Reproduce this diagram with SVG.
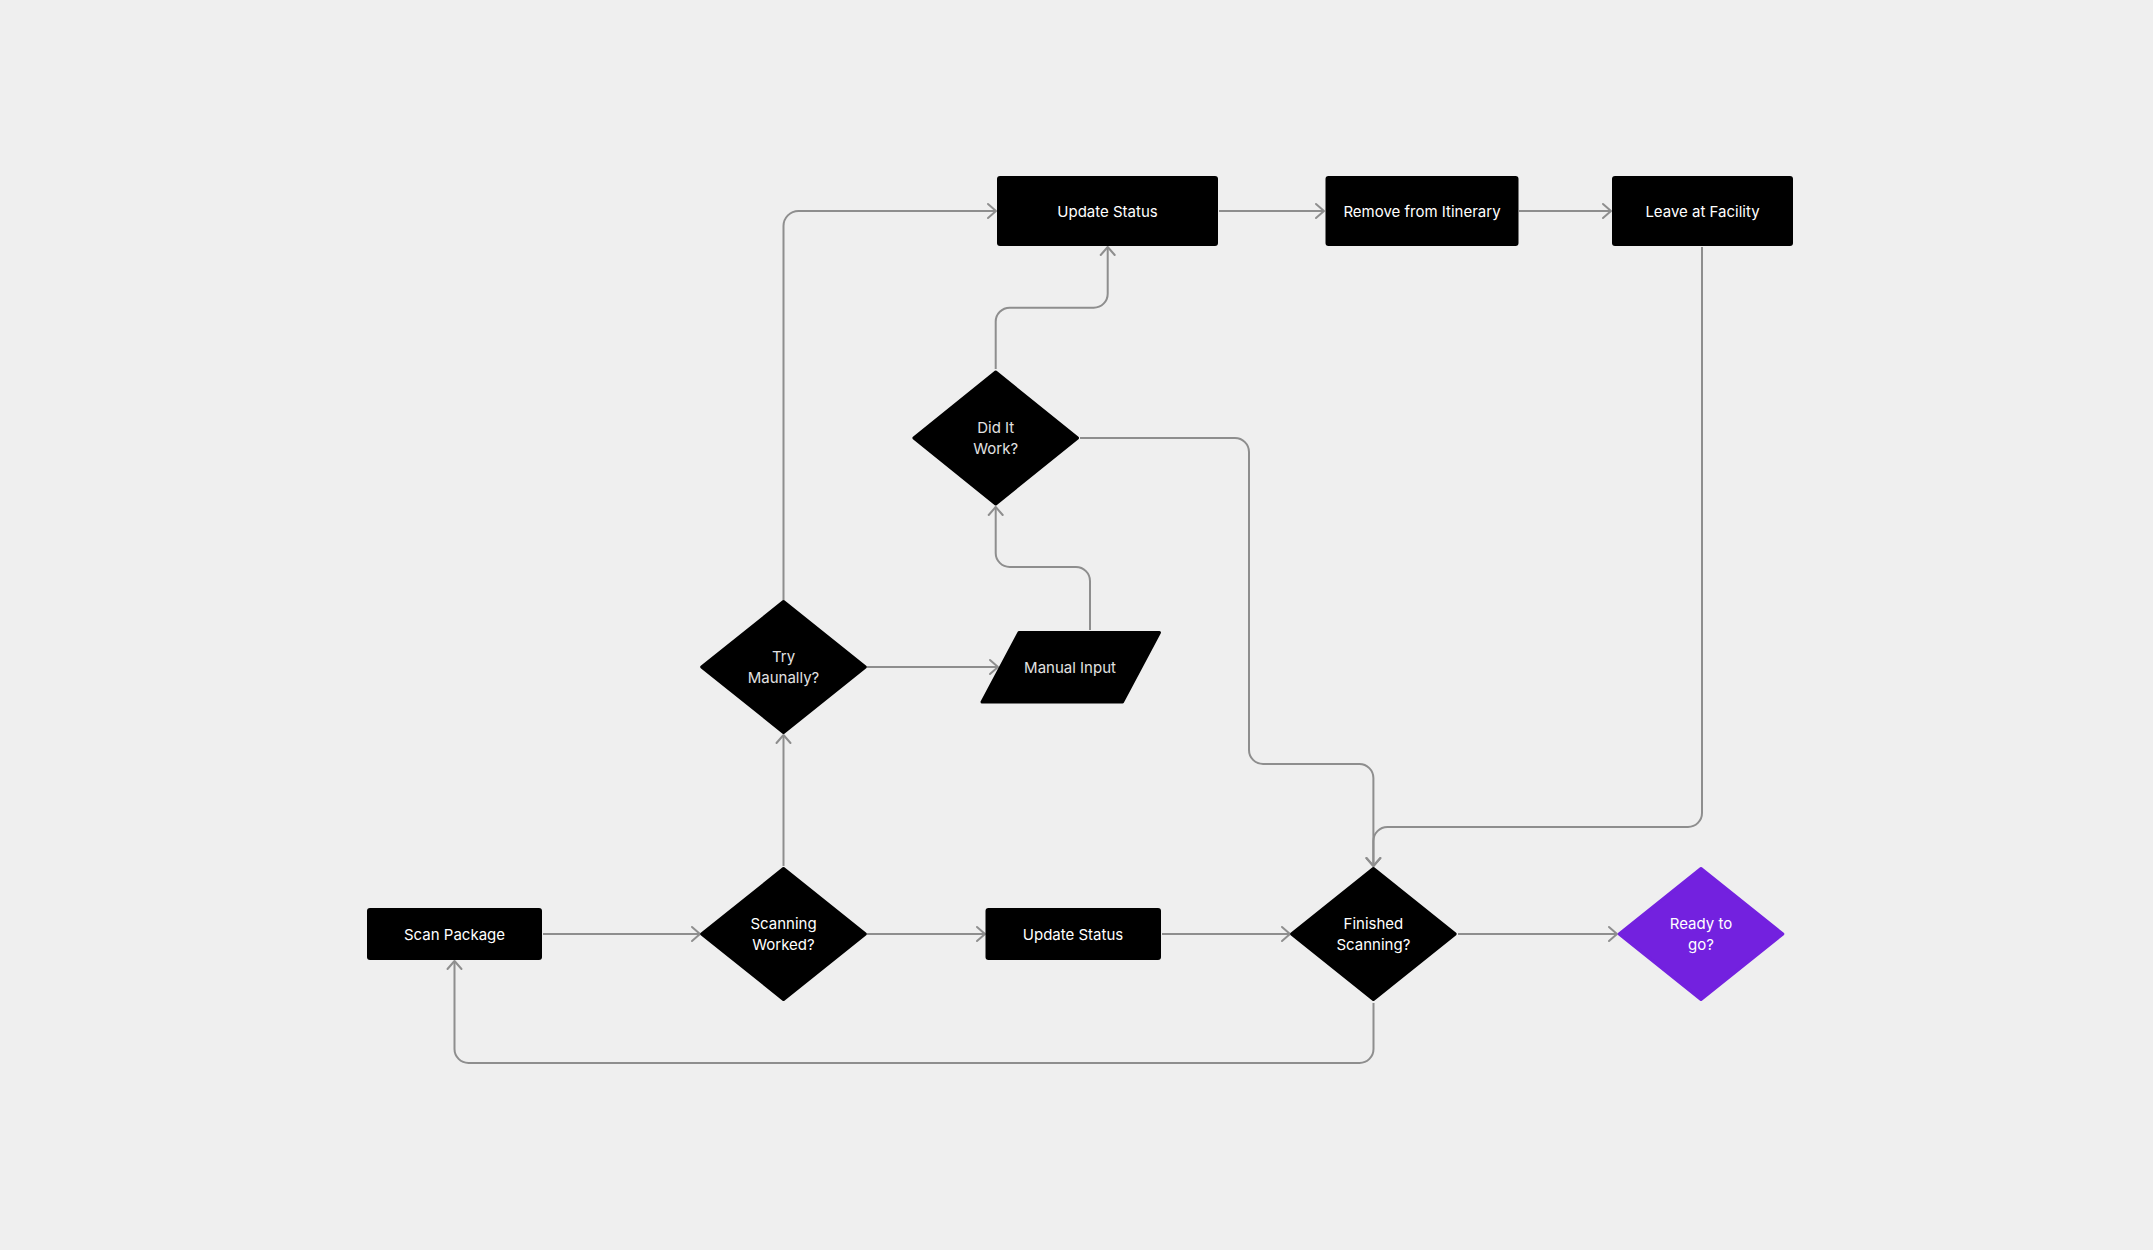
<svg xmlns="http://www.w3.org/2000/svg" width="2153" height="1250" viewBox="0 0 2153 1250">
<defs>
<style>
.bg{fill:#efefef}
.box{fill:#000}
.dia{fill:#000;stroke:#000;stroke-width:3;stroke-linejoin:round}
.purple{fill:#7321df;stroke:#7321df;stroke-width:3;stroke-linejoin:round}
.lbl{font-family:Inter,"Noto Sans","Liberation Sans",sans-serif;font-size:15px;fill:#fff;text-anchor:middle}
.soft{fill:#e2e2e2}
.conn{fill:none;stroke:#8e8e8e;stroke-width:2;marker-end:url(#arrow)}
.plain{fill:none;stroke:#8e8e8e;stroke-width:2}
</style>
<marker id="arrow" viewBox="0 0 12 18" refX="10" refY="9" markerWidth="12" markerHeight="18" markerUnits="userSpaceOnUse" orient="auto">
<path d="M2,2 L10,9 L2,16" fill="none" stroke="#8e8e8e" stroke-width="2" stroke-linecap="round" stroke-linejoin="round"/>
</marker>
</defs>
<rect class="bg" x="0" y="0" width="2153" height="1250"/>

<g id="connectors">
<path class="conn" d="M543,934 H700"/>
<path class="conn" d="M867,934 H985"/>
<path class="conn" d="M1162,934 H1290"/>
<path class="conn" d="M1458,934 H1617"/>
<path class="conn" d="M1373.5,1003 V1049 A14,14 0 0 1 1359.5,1063 H468.5 A14,14 0 0 1 454.5,1049 V961"/>
<path class="conn" d="M783.5,866 V735"/>
<path class="conn" d="M783.5,600 V226 A15,15 0 0 1 798.5,211 H996"/>
<path class="conn" d="M867,667 H998"/>
<path class="conn" d="M1090,630 V581 A14,14 0 0 0 1076,567 H1009.7 A14,14 0 0 1 995.7,553 V507"/>
<path class="conn" d="M995.7,369 V321.7 A14,14 0 0 1 1009.7,307.7 H1093.7 A14,14 0 0 0 1107.7,293.7 V247"/>
<path class="conn" d="M1219,211 H1324"/>
<path class="conn" d="M1519,211 H1611"/>
<path class="conn" d="M1080,438 H1235 A14,14 0 0 1 1249,452 V750 A14,14 0 0 0 1263,764 H1359.4 A14,14 0 0 1 1373.4,778 V866"/>
<path class="conn" d="M1702,247 V813 A14,14 0 0 1 1688,827 H1387.4 A14,14 0 0 0 1373.4,841 V866"/>
</g>

<g id="update-status-top">
<rect class="box" x="997" y="176" width="221" height="70" rx="3"/>
<text class="lbl" x="1107.5" y="216.5">Update Status</text>
</g>
<g id="remove-from-itinerary">
<rect class="box" x="1325.5" y="176" width="193" height="70" rx="3"/>
<text class="lbl" x="1422" y="216.5">Remove from Itinerary</text>
</g>
<g id="leave-at-facility">
<rect class="box" x="1612" y="176" width="181" height="70" rx="3"/>
<text class="lbl" x="1702.5" y="216.5">Leave at Facility</text>
</g>
<g id="did-it-work">
<polygon class="dia" points="995.7,372 1077.5,438 995.7,504 913.9,438"/>
<text class="lbl soft" x="995.7" y="433">Did It</text>
<text class="lbl soft" x="995.7" y="454">Work?</text>
</g>
<g id="try-manually">
<polygon class="dia" points="783.5,601.5 865.3,667 783.5,732.5 701.7,667"/>
<text class="lbl soft" x="783.5" y="662">Try</text>
<text class="lbl soft" x="783.5" y="683">Maunally?</text>
</g>
<g id="manual-input">
<polygon class="dia" points="1019,632.5 1159.5,632.5 1122.5,702 982,702"/>
<text class="lbl soft" x="1070" y="673">Manual Input</text>
</g>
<g id="scan-package">
<rect class="box" x="367" y="908" width="175" height="52" rx="3"/>
<text class="lbl" x="454.5" y="939.5">Scan Package</text>
</g>
<g id="scanning-worked">
<polygon class="dia" points="783.5,868.5 865.3,934 783.5,999.5 701.7,934"/>
<text class="lbl" x="783.5" y="929">Scanning</text>
<text class="lbl" x="783.5" y="950">Worked?</text>
</g>
<g id="update-status-bottom">
<rect class="box" x="985.5" y="908" width="175.5" height="52" rx="3"/>
<text class="lbl" x="1073" y="939.5">Update Status</text>
</g>
<g id="finished-scanning">
<polygon class="dia" points="1373.4,868.5 1455.2,934 1373.4,999.5 1291.6,934"/>
<text class="lbl" x="1373.4" y="929">Finished</text>
<text class="lbl" x="1373.4" y="950">Scanning?</text>
</g>
<g id="ready-to-go">
<polygon class="purple" points="1701,868.5 1782.8,934 1701,999.5 1619.2,934"/>
<text class="lbl" x="1701" y="929">Ready to</text>
<text class="lbl" x="1701" y="950">go?</text>
</g>
</svg>
